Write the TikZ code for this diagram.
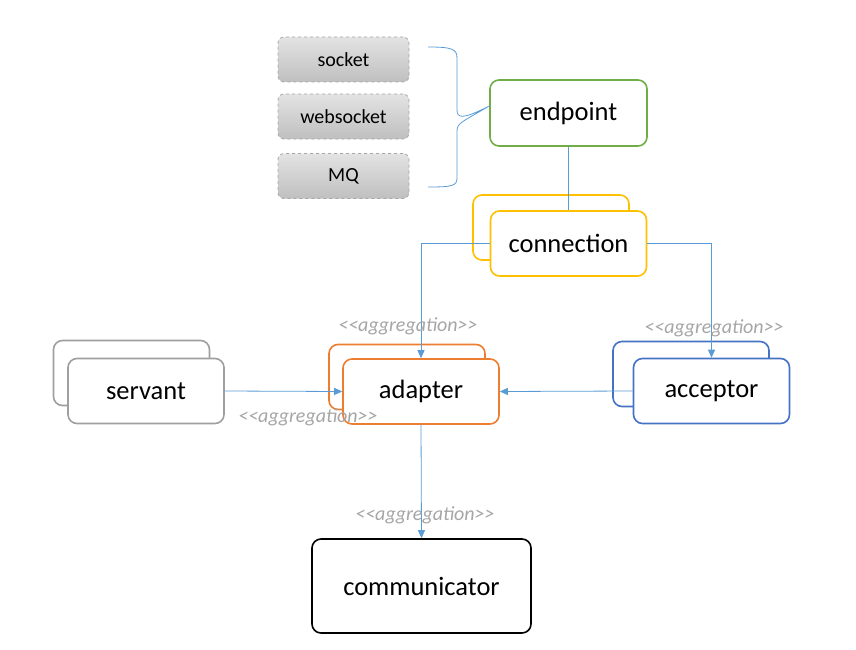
\documentclass[tikz,border=0pt]{standalone}
\usepackage{fontspec}
\setmainfont{Carlito}
\usetikzlibrary{arrows.meta, positioning}
\definecolor{linkblue}{HTML}{5B9BD5}
\definecolor{connyellow}{HTML}{FFC000}
\definecolor{adaptorange}{HTML}{ED7D31}
\definecolor{acceptblue}{HTML}{4472C4}
\definecolor{endgreen}{HTML}{70AD47}
\definecolor{labelgray}{HTML}{A6A6A6}
\newcommand{\aggrtext}{{<}{<}aggregation{>}{>}}
\begin{document}
\begin{tikzpicture}[x=1pt, y=-1pt,
	box/.style={draw, line width=1.6pt, fill=white, rounded corners=9pt,
		minimum width=156pt, minimum height=65pt, inner sep=0pt,
		font=\fontsize{26.5}{30}\selectfont},
	tech/.style={draw=gray!70, dashed, line width=0.8pt, rounded corners=6pt,
		top color=gray!22, bottom color=gray!50,
		minimum width=131pt, minimum height=45pt, inner sep=0pt,
		font=\fontsize{20}{24}\selectfont},
	link/.style={draw=linkblue, line width=0.8pt},
	aggr/.style={-{Triangle[length=8pt, width=7pt]}},
	stereo/.style={text=labelgray, font=\fontsize{20}{23}\selectfont\itshape, inner sep=0pt}]
	\useasboundingbox (0,0) rectangle (856,650);

	% transports
	\node[tech] (sock) at (343.5,59.5) {socket};
	\node[tech] (wsock) at (343.5,116.5) {websocket};
	\node[tech] (mq) at (343.5,176) {MQ};

	\node[box, draw=endgreen, minimum width=157pt, minimum height=66pt] (endp) at (568.5,113) {endpoint};

	% stacked boxes (back copy first)
	\node[box, draw=connyellow] (connback) at (551,227.5) {};
	\node[box, draw=connyellow] (conn) at (568.5,243.5) {connection};

	\node[box, draw=gray!75] (servback) at (131.5,373) {};
	\node[box, draw=gray!75] (serv) at (146,391) {servant};

	\node[box, draw=adaptorange] (adaptback) at (407,377) {};
	\node[box, draw=adaptorange] (adapt) at (421,391.5) {adapter};

	\node[box, draw=acceptblue] (acceptback) at (691,374) {};
	\node[box, draw=acceptblue] (accept) at (711.5,391) {acceptor};

	\node[box, minimum width=219pt, minimum height=94pt] (comm) at (421.5,586) {communicator};

	% brace from transports to endpoint
	\coordinate (tip) at ([yshift=7pt]endp.west);
	\draw[linkblue, line width=0.8pt] (428,47) .. controls (452,47) and (457,49) .. (457,58)
		-- (457,110) .. controls (457,118) and (462,120) .. (tip)
		.. controls (462,122) and (457,123) .. (457,131)
		-- (457,178) .. controls (457,186) and (452,187) .. (428,187);

	% connectors
	\draw[link] (endp.south) -- (conn.north);
	\draw[link, aggr] (conn.west) -| (adapt.north);
	\draw[link, aggr] (conn.east) -| (accept.north);
	\draw[link, aggr] (serv.east) -- (adapt.west);
	\draw[link, aggr] (accept.west) -- (adapt.east);
	\draw[link, aggr] (adapt.south) -- (comm.north);

	% stereotypes
	\node[stereo] (lbladapt) at (408,326) {\aggrtext};
	\node[stereo] (lblaccept) at (714,328) {\aggrtext};
	\node[stereo] (lblserv) at (308,417) {\aggrtext};
	\node[stereo] (lblcomm) at (425,515) {\aggrtext};
\end{tikzpicture}
\end{document}
